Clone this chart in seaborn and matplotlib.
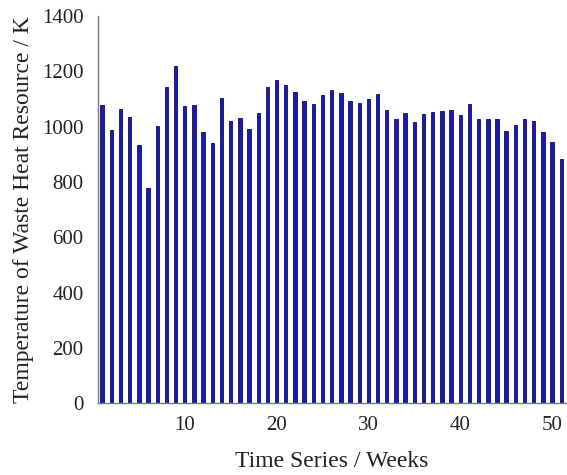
import numpy as np
import pandas as pd
import matplotlib
matplotlib.use("Agg")
import matplotlib.pyplot as plt
import seaborn as sns

weeks = list(range(1, 52))
temperature_k = [
    1079, 987, 1066, 1036, 933, 778, 1002, 1145, 1218, 1076,
    1077, 982, 943, 1104, 1022, 1031, 993, 1048, 1143, 1169,
    1150, 1126, 1094, 1081, 1114, 1133, 1122, 1094, 1087, 1102,
    1120, 1060, 1028, 1051, 1016, 1046, 1053, 1056, 1060, 1041,
    1081, 1027, 1027, 1028, 985, 1005, 1028, 1022, 981, 944,
    882,
]
x_ticks = [10, 20, 30, 40, 50]
y_ticks = [0, 200, 400, 600, 800, 1000, 1200, 1400]

df = pd.DataFrame({"week": weeks, "temp": temperature_k})

sns.set_theme(style="white")
plt.rcParams["font.family"] = ["Liberation Serif", "DejaVu Serif"]

fig = plt.figure(figsize=(5.67, 4.75), dpi=100)
ax = fig.add_axes([0.172, 0.151, 0.826, 0.815])

sns.barplot(data=df, x="week", y="temp", native_scale=True, width=0.37,
            color="#1a1ab4", edgecolor="#0b0b5e", linewidth=0.6,
            saturation=1, errorbar=None, ax=ax)

ax.set_xlim(0.5, 51.5)
ax.set_ylim(0, 1400)
ax.set_xticks(x_ticks)
ax.set_yticks(y_ticks)
ax.tick_params(axis="y", length=0, labelsize=15, colors="#222222", pad=10)
ax.tick_params(axis="x", length=0, labelsize=15, colors="#222222", pad=9)
ax.set_xticklabels([str(t) for t in x_ticks])
ax.set_yticklabels([str(t) for t in y_ticks])

for side in ["top", "right"]:
    ax.spines[side].set_visible(False)
for side in ["left", "bottom"]:
    ax.spines[side].set_color("#7a7a7a")
    ax.spines[side].set_linewidth(1.0)

ax.set_xlabel("Time Series / Weeks", fontsize=17, color="#222222", labelpad=12)
ax.set_ylabel("Temperature of Waste Heat Resource / K", fontsize=17,
              color="#222222", labelpad=6)

fig.savefig("out.png", dpi=100)
